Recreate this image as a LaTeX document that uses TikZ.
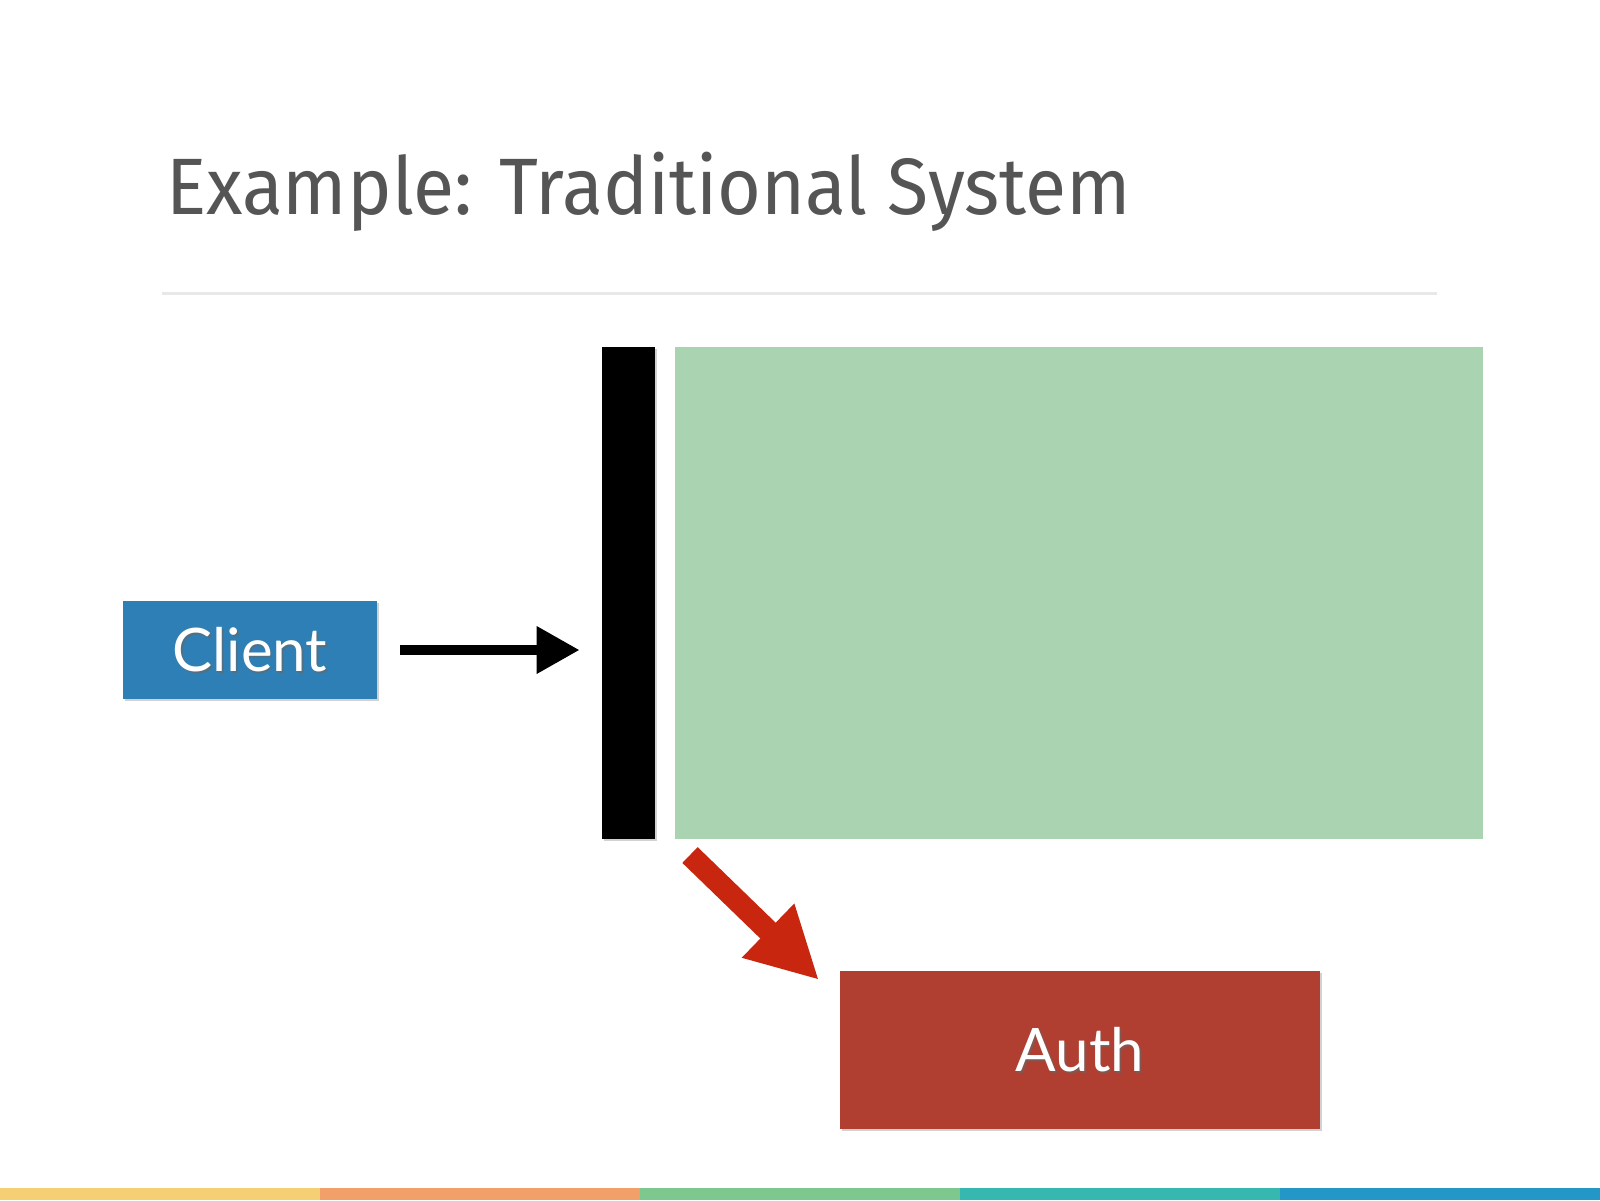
\documentclass[tikz,border=0pt]{standalone}
\usepackage{fontspec}
\setmainfont{Lato}
\newfontfamily\titlefont{Fira Sans}
\usetikzlibrary{arrows.meta}
\definecolor{titlegray}{HTML}{555555}
\definecolor{rulegray}{HTML}{E8E8E8}
\definecolor{clientblue}{HTML}{2E7FB5}
\definecolor{greenbox}{HTML}{AAD4B1}
\definecolor{authred}{HTML}{B03F31}
\definecolor{arrowred}{HTML}{C8260F}
\definecolor{barA}{HTML}{F5CF74}
\definecolor{barB}{HTML}{F0A068}
\definecolor{barC}{HTML}{7EC78E}
\definecolor{barD}{HTML}{36B8B0}
\definecolor{barE}{HTML}{2597C6}
\tikzset{
  box/.style={rectangle, inner sep=0pt, draw=none, text=white},
  boxshadow/.style={fill=black!35, opacity=0.5},
  boxlabel/.style={font=\fontsize{30pt}{34pt}\selectfont},
}
\begin{document}
\begin{tikzpicture}[x=0.5pt,y=-0.5pt]
\useasboundingbox (0,0) rectangle (1600,1200);
\fill[white] (0,0) rectangle (1600,1200);
% title
\node[anchor=base west, inner sep=0pt, text=titlegray, font=\titlefont\fontsize{40pt}{44pt}\selectfont] (title) at (166,214) {\scalebox{0.94}[1]{Example: Traditional System}};
\draw[rulegray, line width=1.5pt] (162,293) -- (1437,293);
% shadows
\fill[boxshadow] (125,603) rectangle (379,701);
\fill[boxshadow] (842,973) rectangle (1322,1131);
\fill[boxshadow] (604,349) rectangle (657,841);
% boxes
\node[box, fill=black, minimum width=26.5pt, minimum height=246pt] (gate) at (628.5,593) {};
\node[box, fill=greenbox, minimum width=404pt, minimum height=246pt] (system) at (1079,593) {};
\node[box, fill=clientblue, minimum width=127pt, minimum height=49pt, boxlabel] (client) at (250,650) {};
\node[box, fill=authred, minimum width=240pt, minimum height=79pt, boxlabel] (auth) at (1080,1050) {};
\node[boxlabel, text=black!60, opacity=0.6, inner sep=0pt] at ([shift={(1.5,2)}]client.center) {Client};
\node[boxlabel, text=white, inner sep=0pt] (clientlabel) at (client.center) {Client};
\node[boxlabel, text=black!60, opacity=0.6, inner sep=0pt] at ([shift={(1.5,2)}]auth.center) {Auth};
\node[boxlabel, text=white, inner sep=0pt] (authlabel) at (auth.center) {Auth};
% arrows
\draw[line width=5pt, -{Triangle[length=21.5pt,width=22.5pt]}, shorten <=11.5pt, shorten >=11pt] (client.east) -- (gate.west |- client.east);
\coordinate (redstart) at (690,855);
\coordinate (redend) at (819,980);
\draw[arrowred, line width=11pt, -{Triangle[length=35.5pt,width=35pt]}] (redstart) -- (redend);
% bottom stripe
\fill[barA] (0,1188) rectangle (320,1200);
\fill[barB] (320,1188) rectangle (640,1200);
\fill[barC] (640,1188) rectangle (960,1200);
\fill[barD] (960,1188) rectangle (1280,1200);
\fill[barE] (1280,1188) rectangle (1600,1200);
\end{tikzpicture}
\end{document}
